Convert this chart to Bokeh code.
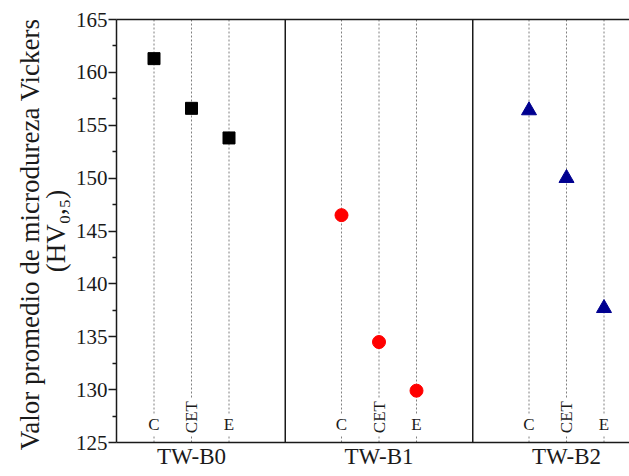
import math
from bokeh.plotting import figure
from bokeh.models import Range1d, FixedTicker, LinearAxis, Span
from bokeh.embed import file_html
from bokeh.resources import INLINE
from bokeh.core.properties import value

# ---- data ----
groups = ["TW-B0", "TW-B1", "TW-B2"]
zones = ["C", "CET", "E"]
zone_offsets = [0.3, 0.5, 0.7]
tw_b0 = [161.3, 156.6, 153.8]
tw_b1 = [146.5, 134.5, 129.9]
tw_b2 = [156.4, 150.0, 137.7]
y_major = [125, 130, 135, 140, 145, 150, 155, 160, 165]
y_minor = [127.5, 132.5, 137.5, 142.5, 147.5, 152.5, 157.5, 162.5]
y_label_1 = "Valor promedio de microdureza  Vickers"
y_label_2 = "(HV\u2080,\u2085)"

FONT = "Liberation Serif"
INK = "#1a1a1a"

p = figure(width=629, height=476, output_backend="svg", toolbar_location=None,
           x_range=Range1d(0.1, 2.836), y_range=Range1d(125, 165),
           min_border_left=116, min_border_right=0, min_border_top=19,
           min_border_bottom=34, x_axis_type=None, y_axis_type=None)
p.outline_line_color = None
p.grid.visible = False
p.background_fill_color = "white"

# y axis (closest to frame) carries second label line
yax = LinearAxis(ticker=FixedTicker(ticks=y_major, minor_ticks=y_minor))
yax.axis_line_width = 1.5
yax.axis_line_color = INK
yax.major_tick_line_color = INK
yax.minor_tick_line_color = INK
yax.major_tick_line_width = 1.5
yax.minor_tick_line_width = 1.5
yax.major_tick_in = 0
yax.major_tick_out = 8
yax.minor_tick_in = 0
yax.minor_tick_out = 4
yax.major_label_text_font = FONT
yax.major_label_text_font_size = "21px"
yax.major_label_text_color = INK
yax.major_label_standoff = 1
yax.axis_label = y_label_2
yax.axis_label_text_font = FONT
yax.axis_label_text_font_size = "27px"
yax.axis_label_text_font_style = "normal"
yax.axis_label_text_color = INK
yax.axis_label_standoff = 2
p.add_layout(yax, "left")

# outer label line
yax2 = LinearAxis(ticker=FixedTicker(ticks=[]))
yax2.axis_line_color = None
yax2.major_tick_line_color = None
yax2.minor_tick_line_color = None
yax2.major_label_text_font_size = "0px"
yax2.major_label_standoff = 0
yax2.major_tick_out = 0
yax2.axis_label = y_label_1
yax2.axis_label_text_font = FONT
yax2.axis_label_text_font_size = "27px"
yax2.axis_label_text_font_style = "normal"
yax2.axis_label_text_color = INK
yax2.axis_label_standoff = -7
p.add_layout(yax2, "left")

# x axis with group labels
centers = [i + 0.5 for i in range(len(groups))]
xax = LinearAxis(ticker=FixedTicker(ticks=centers))
xax.major_label_overrides = {c: g for c, g in zip(centers, groups)}
xax.axis_line_width = 1.5
xax.axis_line_color = INK
xax.major_tick_line_color = None
xax.minor_tick_line_color = None
xax.major_tick_out = 0
xax.major_label_text_font = FONT
xax.major_label_text_font_size = "23px"
xax.major_label_text_color = INK
xax.major_label_standoff = 1
p.add_layout(xax, "below")

# top border
tax = LinearAxis(ticker=FixedTicker(ticks=[]))
tax.axis_line_width = 1.5
tax.axis_line_color = INK
tax.major_tick_line_color = None
tax.minor_tick_line_color = None
tax.major_label_text_font_size = "0px"
tax.major_label_standoff = 0
p.add_layout(tax, "above")

# group separators
for i in range(1, len(groups)):
    p.add_layout(Span(location=i, dimension="height", line_color=INK, line_width=1.5))

# dotted guide lines, interrupted by zone labels
gx, top0, top1, bot0, bot1 = [], [], [], [], []
lx, ly, lt, la = [], [], [], []
for gi in range(len(groups)):
    for zi, z in enumerate(zones):
        x = gi + zone_offsets[zi]
        gx.append(x)
        if z == "CET":
            top1.append(129.1)
            bot1.append(125.6)
            ly.append(127.4)
            la.append(math.pi / 2)
        else:
            top1.append(127.7)
            bot1.append(125.7)
            ly.append(126.7)
            la.append(0)
        top0.append(165)
        bot0.append(125)
        lx.append(x)
        lt.append(z)

p.segment(x0=gx, y0=top0, x1=gx, y1=top1, line_color="#808080", line_width=1, line_dash="2 2")
p.segment(x0=gx, y0=bot0, x1=gx, y1=bot1, line_color="#808080", line_width=1, line_dash="2 2")
p.text(x=lx, y=ly, text=lt, angle=la, text_align="center", text_baseline="middle",
       text_font=value(FONT), text_font_size="17px", text_color=INK)

# markers
xs0 = [0 + o for o in zone_offsets]
xs1 = [1 + o for o in zone_offsets]
xs2 = [2 + o for o in zone_offsets]
p.scatter(xs0, tw_b0, marker="square", size=12, fill_color="black", line_color="black")
p.scatter(xs1, tw_b1, marker="circle", size=13, fill_color="#ff0000", line_color="#ff0000")
p.scatter(xs2, tw_b2, marker="triangle", size=15, fill_color="#000090", line_color="#000090")

open("out.html", "w").write(file_html(p, INLINE))
